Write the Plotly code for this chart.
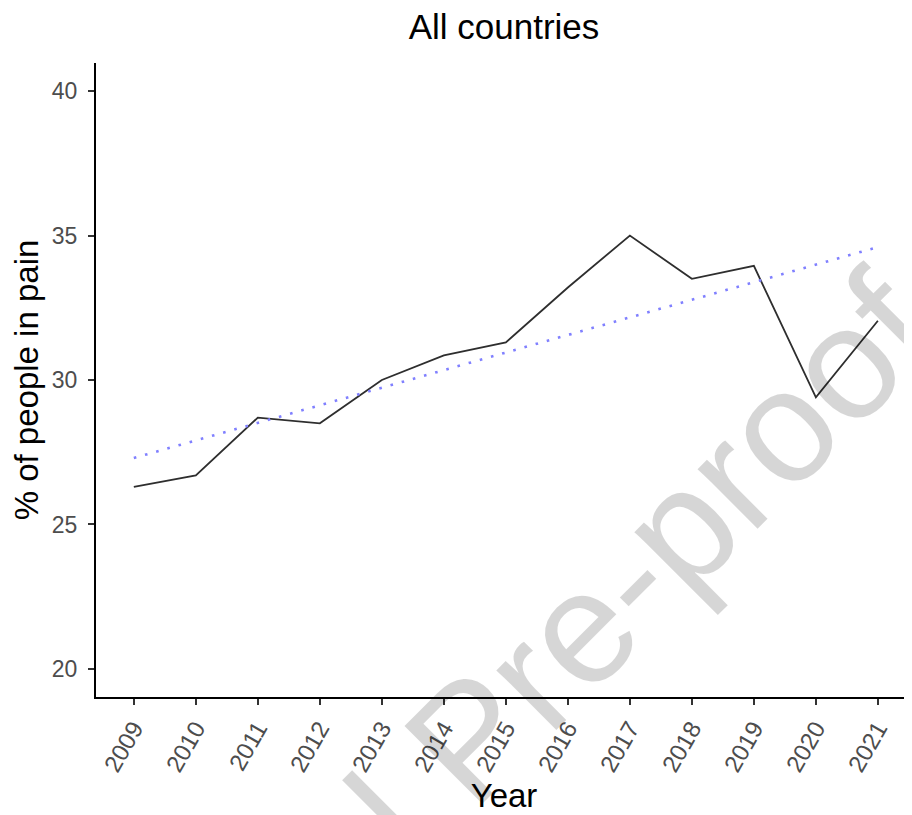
import plotly.graph_objects as go

years = [2009, 2010, 2011, 2012, 2013, 2014, 2015, 2016, 2017, 2018, 2019, 2020, 2021]
pain_pct = [26.3, 26.7, 28.7, 28.5, 30.0, 30.85, 31.3, 33.2, 35.0, 33.5, 33.95, 29.4, 32.05]
trend_years = [2009, 2021]
trend_pct = [27.3, 34.6]
y_ticks = [20, 25, 30, 35, 40]
x_tick_labels = [str(y) for y in years]

FONT = "Liberation Sans, Arial, Helvetica, sans-serif"

# The page places the figure 8px from the top-left corner, so the figure is
# 8px smaller than the window.
W, H = 904, 807
L, T, B = 88, 55, 118

fig = go.Figure()
fig.add_trace(go.Scatter(
    x=years, y=pain_pct, mode="lines",
    line=dict(color="#2e2e2e", width=1.8),
    showlegend=False, hoverinfo="skip",
))
fig.add_trace(go.Scatter(
    x=trend_years, y=trend_pct, mode="lines",
    line=dict(color="#8080ff", width=2.6, dash="2.6px,9px"),
    showlegend=False, hoverinfo="skip",
))

fig.update_layout(
    width=W, height=H,
    margin=dict(l=L, r=0, t=T, b=B),
    paper_bgcolor="white", plot_bgcolor="white",
    font=dict(family=FONT, color="black"),
    title=dict(text="All countries", x=0.5, xref="paper", xanchor="center",
               y=1 - 19 / H, yref="container", yanchor="middle",
               font=dict(size=35, color="black", family=FONT)),
    xaxis=dict(
        range=[2008.39, 2021.55],
        tickmode="array", tickvals=years, ticktext=x_tick_labels,
        tickangle=-60,
        showgrid=False, zeroline=False,
        showline=True, linecolor="black", linewidth=2,
        ticks="outside", ticklen=6, tickwidth=2, tickcolor="#333333",
        tickfont=dict(size=24, color="#4d4d4d", family=FONT),
        title=dict(text="Year", font=dict(size=33, color="black", family=FONT), standoff=7),
    ),
    yaxis=dict(
        range=[19.03, 40.97],
        tickmode="array", tickvals=y_ticks,
        showgrid=False, zeroline=False,
        showline=True, linecolor="black", linewidth=2,
        ticks="outside", ticklen=6, tickwidth=2, tickcolor="#333333",
        tickfont=dict(size=23, color="#4d4d4d", family=FONT),
        ticklabelstandoff=6,
        title=dict(text="% of people in pain", font=dict(size=33, color="black", family=FONT), standoff=8),
    ),
)

fig.add_annotation(
    text="Journal Pre-proof", xref="paper", yref="paper",
    x=(460 - L) / 816, y=(689 - 731) / 634,
    xanchor="center", yanchor="middle",
    textangle=-45, showarrow=False,
    font=dict(size=160, color="rgba(0,0,0,0.16)", family=FONT),
)

fig.write_html("out.html")
